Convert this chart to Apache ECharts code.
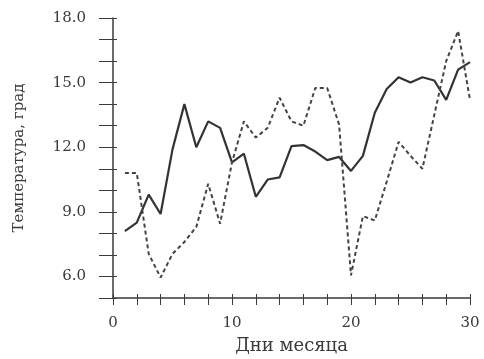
<!DOCTYPE html>
<html>
<head>
<meta charset="utf-8">
<script src="https://cdn.jsdelivr.net/npm/echarts@6/dist/echarts.min.js"></script>
<style>
html, body { margin: 0; padding: 0; background: #fff; }
#main { width: 484px; height: 359px; }
</style>
</head>
<body>
<div id="main"></div>
<script>
// дни месяца
var days = [1, 2, 3, 4, 5, 6, 7, 8, 9, 10, 11, 12, 13, 14, 15,
            16, 17, 18, 19, 20, 21, 22, 23, 24, 25, 26, 27, 28, 29, 30];
// сплошная линия
var solidTemp = [8.1, 8.5, 9.8, 8.9, 11.9, 14.0, 12.0, 13.2, 12.9, 11.3,
                 11.7, 9.7, 10.5, 10.6, 12.05, 12.1, 11.8, 11.4, 11.55, 10.9,
                 11.6, 13.6, 14.7, 15.25, 15.0, 15.25, 15.1, 14.2, 15.6, 15.95];
// пунктирная линия
var dashedTemp = [10.8, 10.8, 7.05, 5.95, 7.05, 7.6, 8.3, 10.3, 8.45, 11.3,
                  13.2, 12.45, 12.9, 14.3, 13.2, 13.0, 14.75, 14.75, 13.05, 6.05,
                  8.8, 8.6, 10.4, 12.25, 11.6, 11.0, 13.5, 16.0, 17.4, 14.2];
var yLabels = [6, 9, 12, 15, 18];
var xLabels = [0, 10, 20, 30];

function pairs(vals) {
    return days.map(function (d, i) { return [d, vals[i]]; });
}

var ink = '#3a3a3a';
var font = '"DejaVu Serif", "Liberation Serif", serif';

var myChart = echarts.init(document.getElementById('main'));
var option = {
    animation: false,
    backgroundColor: '#fff',
    grid: { left: 113, right: 14, top: 18, bottom: 61, outerBoundsMode: 'none', containLabel: false },
    xAxis: [
        {
            type: 'value', min: 0, max: 30, interval: 2,
            name: 'Дни месяца', nameLocation: 'middle', nameGap: 39,
            nameTextStyle: { color: ink, fontFamily: font, fontSize: 18 },
            axisLine: { lineStyle: { color: ink, width: 1.5 } },
            axisTick: { inside: true, length: 4, lineStyle: { color: ink } },
            axisLabel: { show: false },
            splitLine: { show: false }
        },
        {
            type: 'value', min: 0, max: 30, interval: 2, position: 'bottom',
            axisLine: { show: false },
            axisTick: {
                length: 7, lineStyle: { color: ink },
                interval: function (i, v) { return xLabels.indexOf(v) >= 0; }
            },
            axisLabel: {
                color: ink, fontFamily: font, fontSize: 15, margin: 18,
                formatter: function (v) { return xLabels.indexOf(v) >= 0 ? String(v) : ''; }
            },
            splitLine: { show: false }
        }
    ],
    yAxis: [
        {
            type: 'value', min: 5, max: 18, interval: 1,
            name: 'Температура, град', nameLocation: 'middle', nameGap: 86,
            nameTextStyle: { color: ink, fontFamily: font, fontSize: 15 },
            axisLine: { lineStyle: { color: ink, width: 1.5 } },
            axisTick: { inside: true, length: 4, lineStyle: { color: ink } },
            axisLabel: { show: false },
            splitLine: { show: false }
        },
        {
            type: 'value', min: 5, max: 18, interval: 1, position: 'left',
            axisLine: { show: false },
            axisTick: {
                length: 14, lineStyle: { color: ink },
                interval: function (i, v) { return yLabels.indexOf(v) >= 0; }
            },
            axisLabel: {
                color: ink, fontFamily: font, fontSize: 15, margin: 27,
                formatter: function (v) { return yLabels.indexOf(v) >= 0 ? v.toFixed(1) : ''; }
            },
            splitLine: { show: false }
        }
    ],
    series: [
        {
            name: 'solid', type: 'line', data: pairs(solidTemp),
            showSymbol: false, symbol: 'none',
            lineStyle: { color: '#333', width: 2.2 }
        },
        {
            name: 'dashed', type: 'line', data: pairs(dashedTemp),
            showSymbol: false, symbol: 'none',
            lineStyle: { color: '#444', width: 2, type: [4, 3] }
        }
    ]
};
myChart.setOption(option);
</script>
</body>
</html>
